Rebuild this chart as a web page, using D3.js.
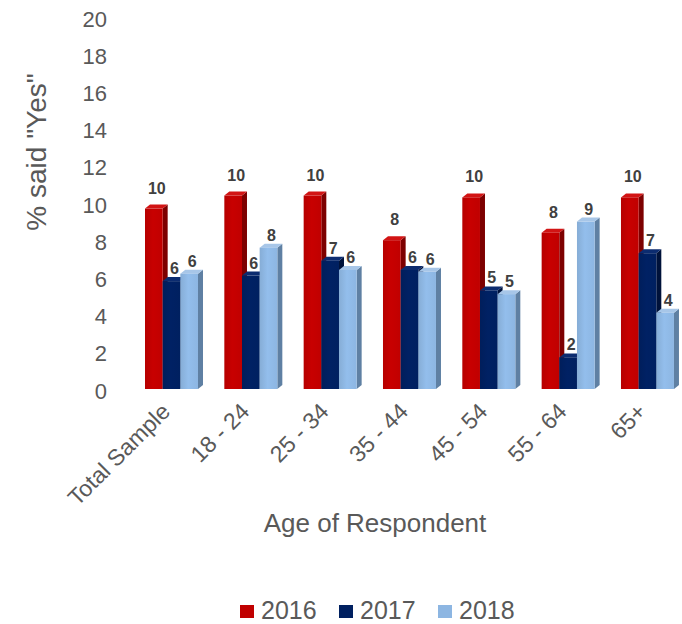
<!DOCTYPE html>
<html>
<head>
<meta charset="utf-8">
<script src="https://cdn.jsdelivr.net/npm/d3@7"></script>
<style>
  html, body { margin: 0; padding: 0; background: #fff; }
  svg { display: block; font-family: "Liberation Sans", Arial, sans-serif; }
</style>
</head>
<body>
<svg id="chart" width="682" height="624"></svg>
<script>
// Share of respondents who said "Yes", by age group and survey year
const categories = ["Total Sample", "18 - 24", "25 - 34", "35 - 44", "45 - 54", "55 - 64", "65+"];
const years = ["2016", "2017", "2018"];
const values2016 = [9.7, 10.4, 10.4, 8.0, 10.3, 8.4, 10.3];
const values2017 = [5.8, 6.1, 6.9, 6.4, 5.3, 1.7, 7.3];
const values2018 = [6.2, 7.6, 6.4, 6.3, 5.1, 9.0, 4.1];
const yTicks = [0, 2, 4, 6, 8, 10, 12, 14, 16, 18, 20];

const seriesValues = [values2016, values2017, values2018];

// face colours per series: front, side, top
const frontColors = ["#c00000", "#002060", "#8db6e2"];
const sideColors  = ["#7d0000", "#00123a", "#5f80a3"];
const topColors   = ["#d21414", "#0c2c70", "#a7c6e8"];
const labelLift   = [11, 3, 3];

const svg = d3.select("#chart");
const textColor = "#595959";

const y = d3.scaleLinear().domain([0, 20]).range([389, 17]);
const x0 = d3.scaleBand().domain(categories).range([131.8, 687.1]).padding(0);
const x1 = d3.scaleBand().domain(years).range([13.2, 66.2]).padding(0);
const depthX = 5, depthY = 4;

// subtle horizontal shading on the bar fronts
const defs = svg.append("defs");
frontColors.forEach((c, i) => {
  const g = defs.append("linearGradient").attr("id", "front" + i)
    .attr("x1", "0%").attr("x2", "100%").attr("y1", "0%").attr("y2", "0%");
  g.append("stop").attr("offset", "0%").attr("stop-color", d3.color(c).darker(0.15));
  g.append("stop").attr("offset", "45%").attr("stop-color", d3.color(c).brighter(0.12));
  g.append("stop").attr("offset", "100%").attr("stop-color", c);
});

// y axis (labels only)
const yAxis = d3.axisLeft(y).tickValues(yTicks).tickSize(0).tickPadding(0);
const yg = svg.append("g").attr("transform", "translate(107,2)").call(yAxis);
yg.select(".domain").remove();
yg.selectAll("text").attr("fill", textColor).attr("font-size", 22)
  .attr("font-family", "Liberation Sans, Arial, sans-serif");

// bars
const rows = categories.map((c, ci) => ({
  category: c,
  bars: years.map((yr, si) => ({ year: yr, si, value: seriesValues[si][ci] }))
}));

const groups = svg.append("g").selectAll("g.group").data(rows).join("g")
  .attr("class", "group")
  .attr("transform", d => `translate(${x0(d.category)},0)`);

const w = x1.bandwidth();
const bar = groups.selectAll("g.bar").data(d => d.bars).join("g").attr("class", "bar");

bar.append("path") // side face
  .attr("fill", d => sideColors[d.si])
  .attr("d", d => {
    const xl = x1(d.year) + w, yt = y(d.value), yb = y(0);
    return `M${xl},${yt} L${xl + depthX},${yt - depthY} L${xl + depthX},${yb - depthY} L${xl},${yb} Z`;
  });
bar.append("path") // top face
  .attr("fill", d => topColors[d.si])
  .attr("d", d => {
    const xl = x1(d.year), yt = y(d.value);
    return `M${xl},${yt} L${xl + depthX},${yt - depthY} L${xl + w + depthX},${yt - depthY} L${xl + w},${yt} Z`;
  });
bar.append("rect") // front face
  .attr("x", d => x1(d.year))
  .attr("y", d => y(d.value))
  .attr("width", w)
  .attr("height", d => y(0) - y(d.value))
  .attr("fill", d => `url(#front${d.si})`);

// value labels
const fmt = d3.format(".0f");
groups.selectAll("text.val").data(d => d.bars).join("text")
  .attr("class", "val")
  .attr("x", d => x1(d.year) + w / 2 + 3)
  .attr("y", d => y(d.value) - depthY - labelLift[d.si])
  .attr("text-anchor", "middle")
  .attr("font-size", 16).attr("font-weight", "bold").attr("fill", "#404040")
  .text(d => fmt(d.value));

// category labels, rotated
svg.append("g").selectAll("text").data(categories).join("text")
  .attr("transform", d => `translate(${x0(d) + x0.bandwidth() / 2},413) rotate(-45)`)
  .attr("text-anchor", "end")
  .attr("font-size", 23).attr("fill", textColor)
  .text(d => d);

// axis titles
svg.append("text")
  .attr("transform", "translate(46,152) rotate(-90)")
  .attr("text-anchor", "middle")
  .attr("font-size", 28).attr("fill", textColor)
  .text('% said "Yes"');

svg.append("text")
  .attr("x", 375).attr("y", 532)
  .attr("text-anchor", "middle")
  .attr("font-size", 26).attr("fill", textColor)
  .text("Age of Respondent");

// legend
const legend = svg.append("g").selectAll("g").data(years).join("g")
  .attr("transform", (d, i) => `translate(${240 + i * 99},605)`);
legend.append("rect").attr("width", 14).attr("height", 13)
  .attr("fill", (d, i) => frontColors[i]);
legend.append("text").attr("x", 21).attr("y", 14)
  .attr("font-size", 25).attr("fill", textColor)
  .text(d => d);
</script>
</body>
</html>
